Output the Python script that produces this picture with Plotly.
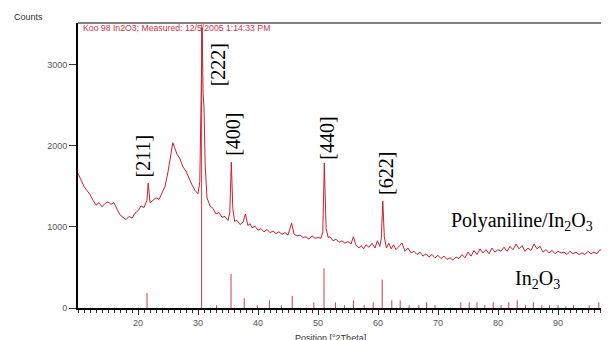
import plotly.graph_objects as go

# Measured pattern (Polyaniline/In2O3): 2theta (deg) and counts
two_theta = [
    10, 10.5, 11, 11.5, 12, 12.5, 13, 13.5, 14, 14.5,
    15, 15.5, 16, 16.5, 17, 17.5, 18, 18.5, 19, 19.5,
    20, 20.5, 21, 21.5, 21.7, 22.0, 22.5, 23, 23.5, 24,
    24.5, 25, 25.5, 25.8, 26.1, 26.5, 27, 27.5, 28, 28.5,
    29, 29.5, 30, 30.3, 30.5, 30.7, 30.85, 31.0, 31.2, 31.5,
    32, 32.5, 33, 33.5, 34, 34.5, 35, 35.3, 35.55, 35.8,
    36.1, 36.5, 37, 37.5, 37.9, 38.3, 38.7, 39, 39.5, 40,
    40.5, 41, 41.5, 42, 42.5, 43, 43.5, 44, 44.5, 45,
    45.6, 46, 46.5, 47, 47.5, 48, 48.5, 49, 49.5, 50,
    50.5, 50.8, 51.05, 51.35, 51.7, 52, 52.5, 53, 53.5, 54,
    54.5, 55, 55.5, 55.9, 56.3, 56.8, 57.2, 57.6, 58, 58.5,
    59, 59.5, 59.9, 60.3, 60.55, 60.8, 61.05, 61.4, 61.8, 62.2,
    62.6, 63, 63.5, 64, 64.5, 65, 65.5, 66, 66.5, 67,
    67.5, 68, 68.5, 69, 69.5, 70, 70.5, 71, 71.5, 72,
    72.5, 73, 73.5, 74, 74.5, 75, 75.5, 76, 76.5, 77,
    77.5, 78, 78.5, 79, 79.5, 80, 80.5, 81, 81.5, 82,
    82.5, 83, 83.5, 84, 84.5, 85, 85.5, 86, 86.5, 87,
    87.5, 88, 88.5, 89, 89.5, 90, 90.5, 91, 91.5, 92,
    92.5, 93, 93.5, 94, 94.5, 95, 95.5, 96, 96.5, 97,
    97.5, 98, 98.5,
]
counts = [
    1660, 1570, 1500, 1450, 1400, 1330, 1270, 1300, 1250, 1290,
    1310, 1280, 1300, 1220, 1150, 1120, 1090, 1130, 1110, 1170,
    1200, 1260, 1240, 1330, 1540, 1300, 1330, 1360, 1340, 1430,
    1500, 1680, 1940, 2040, 1980, 1900, 1840, 1740, 1690, 1600,
    1520, 1450, 1410, 1560, 2400, 3460, 2650, 2470, 1750, 1360,
    1260, 1230, 1160, 1180, 1120, 1130, 1080, 1180, 1800, 1230,
    1070, 1080, 1030, 1060, 1160, 1020, 1040, 990, 1010, 960,
    980, 940, 970, 930, 950, 920, 940, 910, 930, 900,
    1050, 910, 890, 900, 870, 880, 850, 890, 860, 870,
    860, 940, 1790, 980, 870, 880, 830, 850, 810, 830,
    800, 820, 790, 880, 780, 740, 770, 730, 780, 750,
    800, 740, 830, 760, 860, 1320, 880, 740, 800, 730,
    780, 720, 760, 800, 700, 740, 680, 700, 660, 690,
    640, 670, 630, 660, 620, 650, 610, 640, 600, 620,
    590, 630, 610, 660, 620, 690, 640, 710, 660, 730,
    680, 720, 670, 740, 690, 720, 700, 750, 700, 760,
    720, 790, 730, 770, 700, 740, 710, 790, 730, 760,
    690, 720, 680, 710, 670, 700, 680, 690, 660, 700,
    670, 690, 660, 680, 660, 700, 670, 690, 670, 720,
    690, 730, 700,
]

# Reference In2O3 stick pattern
ref_theta = [
    21.5, 30.6, 33.1, 35.5, 37.7, 39.9, 41.9, 43.9, 45.7, 49.3,
    51.0, 52.9, 54.4, 55.9, 57.7, 59.2, 60.7, 62.3, 63.7, 65.2,
    66.8, 68.1, 69.5, 73.8, 75.2, 76.5, 77.8, 79.2, 80.5, 81.8,
    83.2, 84.6, 85.9, 87.3, 88.6, 90.0, 91.3, 92.6, 95.2, 96.8,
]
ref_counts = [
    185, 3500, 35, 420, 120, 35, 95, 35, 150, 70,
    490, 70, 35, 95, 35, 70, 350, 95, 95, 35,
    35, 70, 35, 70, 70, 70, 35, 70, 35, 70,
    95, 35, 70, 35, 35, 35, 20, 35, 35, 70,
]

# Axis tick labels
x_tick_vals = [20, 30, 40, 50, 60, 70, 80, 90]
y_tick_vals = [0, 1000, 2000, 3000]

# Peak labels
peak_labels = ["[211]", "[222]", "[400]", "[440]", "[622]"]
peak_label_x = [20.8, 33.4, 35.7, 51.5, 61.25]
peak_label_y = [1880, 3000, 2140, 2090, 1660]

stick_x, stick_y = [], []
for t, c in zip(ref_theta, ref_counts):
    stick_x += [t, t, None]
    stick_y += [0, c, None]

fig = go.Figure()
fig.add_trace(go.Scatter(x=stick_x, y=stick_y, mode="lines",
                         line=dict(color="#d23a48", width=1), hoverinfo="skip"))
fig.add_trace(go.Scatter(x=two_theta, y=counts, mode="lines",
                         line=dict(color="#c8202c", width=1)))

serif = "Liberation Serif"
for txt, xx, yy in zip(peak_labels, peak_label_x, peak_label_y):
    fig.add_annotation(x=xx, y=yy, text=txt, showarrow=False, textangle=-90,
                       font=dict(family=serif, size=20, color="black"))

fig.add_annotation(x=84.0, y=1070, text="Polyaniline/In<sub>2</sub>O<sub>3</sub>",
                   showarrow=False, font=dict(family=serif, size=20, color="black"))
fig.add_annotation(x=86.5, y=357, text="In<sub>2</sub>O<sub>3</sub>",
                   showarrow=False, font=dict(family=serif, size=20, color="black"))

# plot area (in window pixels): x 78..609, y 23..308
PW, PH = 531, 285
sans = "Liberation Sans"
fig.add_annotation(xref="paper", yref="paper", x=(12 - 78) / PW, y=(308 - 17) / PH,
                   xanchor="left", yanchor="middle", text="Counts", showarrow=False,
                   font=dict(family=sans, size=9, color="#333"))
fig.add_annotation(xref="paper", yref="paper", x=3 / PW, y=(308 - 28) / PH,
                   xanchor="left", yanchor="middle",
                   text="Koo 98 In2O3; Measured: 12/5/2005 1:14:33 PM", showarrow=False,
                   font=dict(family=sans, size=8.7, color="#cc3344"))
fig.add_annotation(xref="paper", yref="paper", x=(330 - 78) / PW, y=(308 - 338) / PH,
                   xanchor="center", yanchor="middle", text="Position [°2Theta]",
                   showarrow=False, font=dict(family=sans, size=9, color="#333"))

fig.add_shape(type="line", xref="paper", yref="paper", x0=0, x1=1, y0=1, y1=1,
              line=dict(color="black", width=1))

# the page body adds an 8px offset; margins compensate so the plot lands at 78..609 / 23..308
fig.update_layout(
    width=609, height=340,
    margin=dict(l=70, r=8, t=15, b=40),
    paper_bgcolor="white", plot_bgcolor="white",
    showlegend=False,
    xaxis=dict(range=[10, 98.5], tickmode="array", tickvals=x_tick_vals,
               ticks="outside", ticklen=5, tickcolor="#333", showgrid=False,
               zeroline=False, showline=True, linecolor="black", linewidth=2,
               tickfont=dict(family=sans, size=9, color="#555"),
               minor=dict(tick0=10, dtick=1, ticks="outside", ticklen=3,
                          tickcolor="#333", showgrid=False)),
    yaxis=dict(range=[0, 3518], tickmode="array", tickvals=y_tick_vals,
               ticks="outside", ticklen=7, tickcolor="#333", showgrid=False,
               zeroline=False, showline=True, linecolor="black", linewidth=2,
               tickfont=dict(family=sans, size=9, color="#555")),
)

fig.write_html("out.html")
